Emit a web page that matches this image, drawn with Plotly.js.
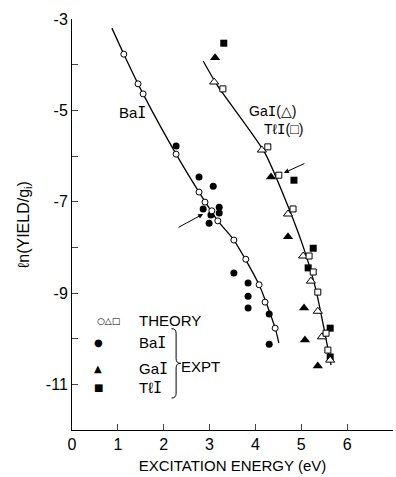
<!DOCTYPE html>
<html><head><meta charset="utf-8">
<script src="https://cdn.plot.ly/plotly-3.0.1.min.js"></script>
<style>html,body{margin:0;padding:0;background:#fff}</style>
</head><body><div id="c" style="width:396px;height:477px"></div>
<script>
// BaI
const baiTheoryX = [1.13, 1.44, 1.55, 2.27, 2.77, 2.90, 3.05, 3.18, 3.53, 3.79, 4.08, 4.21, 4.43];
const baiTheoryY = [-3.77, -4.42, -4.64, -5.96, -6.79, -7.01, -7.20, -7.42, -7.84, -8.26, -8.82, -9.20, -9.77];
const baiCurveX = [0.87, 1.13, 1.55, 2.27, 2.77, 3.18, 3.53, 4.08, 4.43, 4.51];
const baiCurveY = [-3.20, -3.77, -4.64, -5.96, -6.79, -7.42, -7.84, -8.82, -9.77, -10.09];
const baiExptX = [2.27, 2.77, 3.08, 2.86, 3.03, 2.99, 3.21, 3.21, 3.53, 3.84, 3.84, 3.84, 4.30, 4.30];
const baiExptY = [-5.78, -6.46, -6.66, -7.16, -7.29, -7.47, -7.12, -7.25, -8.56, -8.78, -9.07, -9.33, -9.46, -10.12];
// GaI
const gaiTheoryX = [3.10, 4.14, 4.71, 5.04, 5.21, 5.36, 5.45, 5.63];
const gaiTheoryY = [-4.38, -5.87, -7.27, -8.19, -8.74, -9.40, -9.96, -10.47];
const gaiExptX = [3.12, 4.34, 4.71, 5.06, 5.08, 5.36];
const gaiExptY = [-3.85, -6.46, -7.77, -9.33, -10.03, -10.60];
// TlI
const tliTheoryX = [3.29, 4.27, 4.51, 4.82, 5.17, 5.26, 5.36, 5.54, 5.58];
const tliTheoryY = [-4.53, -5.80, -6.42, -7.16, -8.19, -8.54, -8.98, -9.88, -10.25];
const tliExptX = [3.31, 4.84, 5.26, 5.15, 5.63, 5.63];
const tliExptY = [-3.53, -6.53, -8.02, -8.45, -9.77, -10.40];
const gtCurveX = [2.86, 3.18, 4.20, 4.75, 5.10, 5.32, 5.50, 5.65];
const gtCurveY = [-3.92, -4.47, -5.92, -7.20, -8.16, -8.93, -9.80, -10.58];

const yTickVals = [-3, -4, -5, -6, -7, -8, -9, -10, -11];
const yTickText = ['-3', '', '-5', '', '-7', '', '-9', '', '-11'];
const xTickVals = [0, 1, 2, 3, 4, 5, 6, 7];
const xTickText = ['0', '1', '2', '3', '4', '5', '6', '7'];

const F = 'Liberation Sans, Arial, sans-serif';
const SI = '<span style="font-family:DejaVu Sans Mono">I</span>';
const line = {color: '#000', width: 1.3};
const traces = [
  {x: baiCurveX, y: baiCurveY, mode: 'lines', line: Object.assign({shape: 'spline', smoothing: 0.6}, line)},
  {x: gtCurveX, y: gtCurveY, mode: 'lines', line: Object.assign({shape: 'spline', smoothing: 0.6}, line)},
  {x: baiExptX, y: baiExptY, mode: 'markers', marker: {symbol: 'circle', size: 7, color: '#000'}},
  {x: gaiExptX, y: gaiExptY, mode: 'markers', marker: {symbol: 'triangle-up', size: 9, color: '#000'}},
  {x: tliExptX, y: tliExptY, mode: 'markers', marker: {symbol: 'square', size: 7, color: '#000'}},
  {x: baiTheoryX, y: baiTheoryY, mode: 'markers', marker: {symbol: 'circle', size: 6, color: '#fff', line: {color: '#000', width: 1}}},
  {x: gaiTheoryX, y: gaiTheoryY, mode: 'markers', marker: {symbol: 'triangle-up', size: 8, color: '#fff', line: {color: '#000', width: 1}}},
  {x: tliTheoryX, y: tliTheoryY, mode: 'markers', marker: {symbol: 'square', size: 6, color: '#fff', line: {color: '#000', width: 1}}}
];

function ann(text, x, y, opts) {
  return Object.assign({text: text, x: x, y: y, xref: 'x', yref: 'y', showarrow: false,
    font: {family: F, size: 15, color: '#000'}}, opts || {});
}
const small = {family: F, size: 14, color: '#000'};
const annotations = [
  ann('Ba' + SI, 1.31, -5.06),
  ann('Ga' + SI + '(△)', 4.38, -5.02, {font: small}),
  ann('Tℓ' + SI + '(□)', 4.62, -5.40, {font: small}),
  ann('○△□', 0.79, -9.61, {font: {family: 'DejaVu Sans', size: 9, color: '#000'}}),
  ann('THEORY', 1.42, -9.61, {xanchor: 'left'}),
  ann('●', 0.57, -10.09, {font: {family: 'DejaVu Sans', size: 10, color: '#000'}}),
  ann('▲', 0.57, -10.66, {font: {family: 'DejaVu Sans', size: 10, color: '#000'}}),
  ann('■', 0.57, -11.08, {font: {family: 'DejaVu Sans', size: 10, color: '#000'}}),
  ann('Ba' + SI, 1.42, -10.09, {xanchor: 'left'}),
  ann('Ga' + SI, 1.42, -10.66, {xanchor: 'left'}),
  ann('Tℓ' + SI, 1.42, -11.08, {xanchor: 'left'}),
  ann('EXPT', 2.34, -10.6, {xanchor: 'left'}),
  {x: 2.86, y: -7.27, ax: 2.29, ay: -7.58, xref: 'x', yref: 'y', axref: 'x', ayref: 'y',
   showarrow: true, arrowhead: 2, arrowsize: 1, arrowwidth: 1, arrowcolor: '#000', text: ''},
  {x: 4.62, y: -6.37, ax: 5.10, ay: -6.15, xref: 'x', yref: 'y', axref: 'x', ayref: 'y',
   showarrow: true, arrowhead: 2, arrowsize: 1, arrowwidth: 1, arrowcolor: '#000', text: ''}
];
// brace
const bx = 2.17, bt = -9.78, bb = -11.3, bm = (bt + bb) / 2;
const shapes = [{type: 'path', xref: 'x', yref: 'y',
  path: `M ${bx} ${bt} Q ${bx+0.1} ${bt} ${bx+0.1} ${bt-0.1} L ${bx+0.1} ${bm+0.1} Q ${bx+0.1} ${bm} ${bx+0.2} ${bm} Q ${bx+0.1} ${bm} ${bx+0.1} ${bm-0.1} L ${bx+0.1} ${bb+0.1} Q ${bx+0.1} ${bb} ${bx} ${bb}`,
  line: {color: '#000', width: 1}}];

const layout = {
  width: 396, height: 477, showlegend: false,
  margin: {l: 72, r: 3, t: 19, b: 47},
  paper_bgcolor: '#fff', plot_bgcolor: '#fff',
  font: {family: F, size: 15, color: '#000'},
  xaxis: {range: [0, 7], tickvals: xTickVals, ticktext: xTickText, ticks: 'inside', ticklen: 6,
    showgrid: false, zeroline: false, showline: true, linecolor: '#000', linewidth: 1,
    tickfont: {family: F, size: 16}, title: {text: 'EXCITATION ENERGY (eV)', font: {family: F, size: 15}, standoff: 8}},
  yaxis: {range: [-12, -3], tickvals: yTickVals, ticktext: yTickText, ticks: 'inside', ticklen: 6,
    showgrid: false, zeroline: false, showline: true, linecolor: '#000', linewidth: 1,
    tickfont: {family: F, size: 16}, title: {text: 'ℓn(YIELD/g<sub>i</sub>)', font: {family: F, size: 16}, standoff: 12}},
  annotations: annotations, shapes: shapes
};
Plotly.newPlot('c', traces, layout, {staticPlot: true, displayModeBar: false});
</script></body></html>
